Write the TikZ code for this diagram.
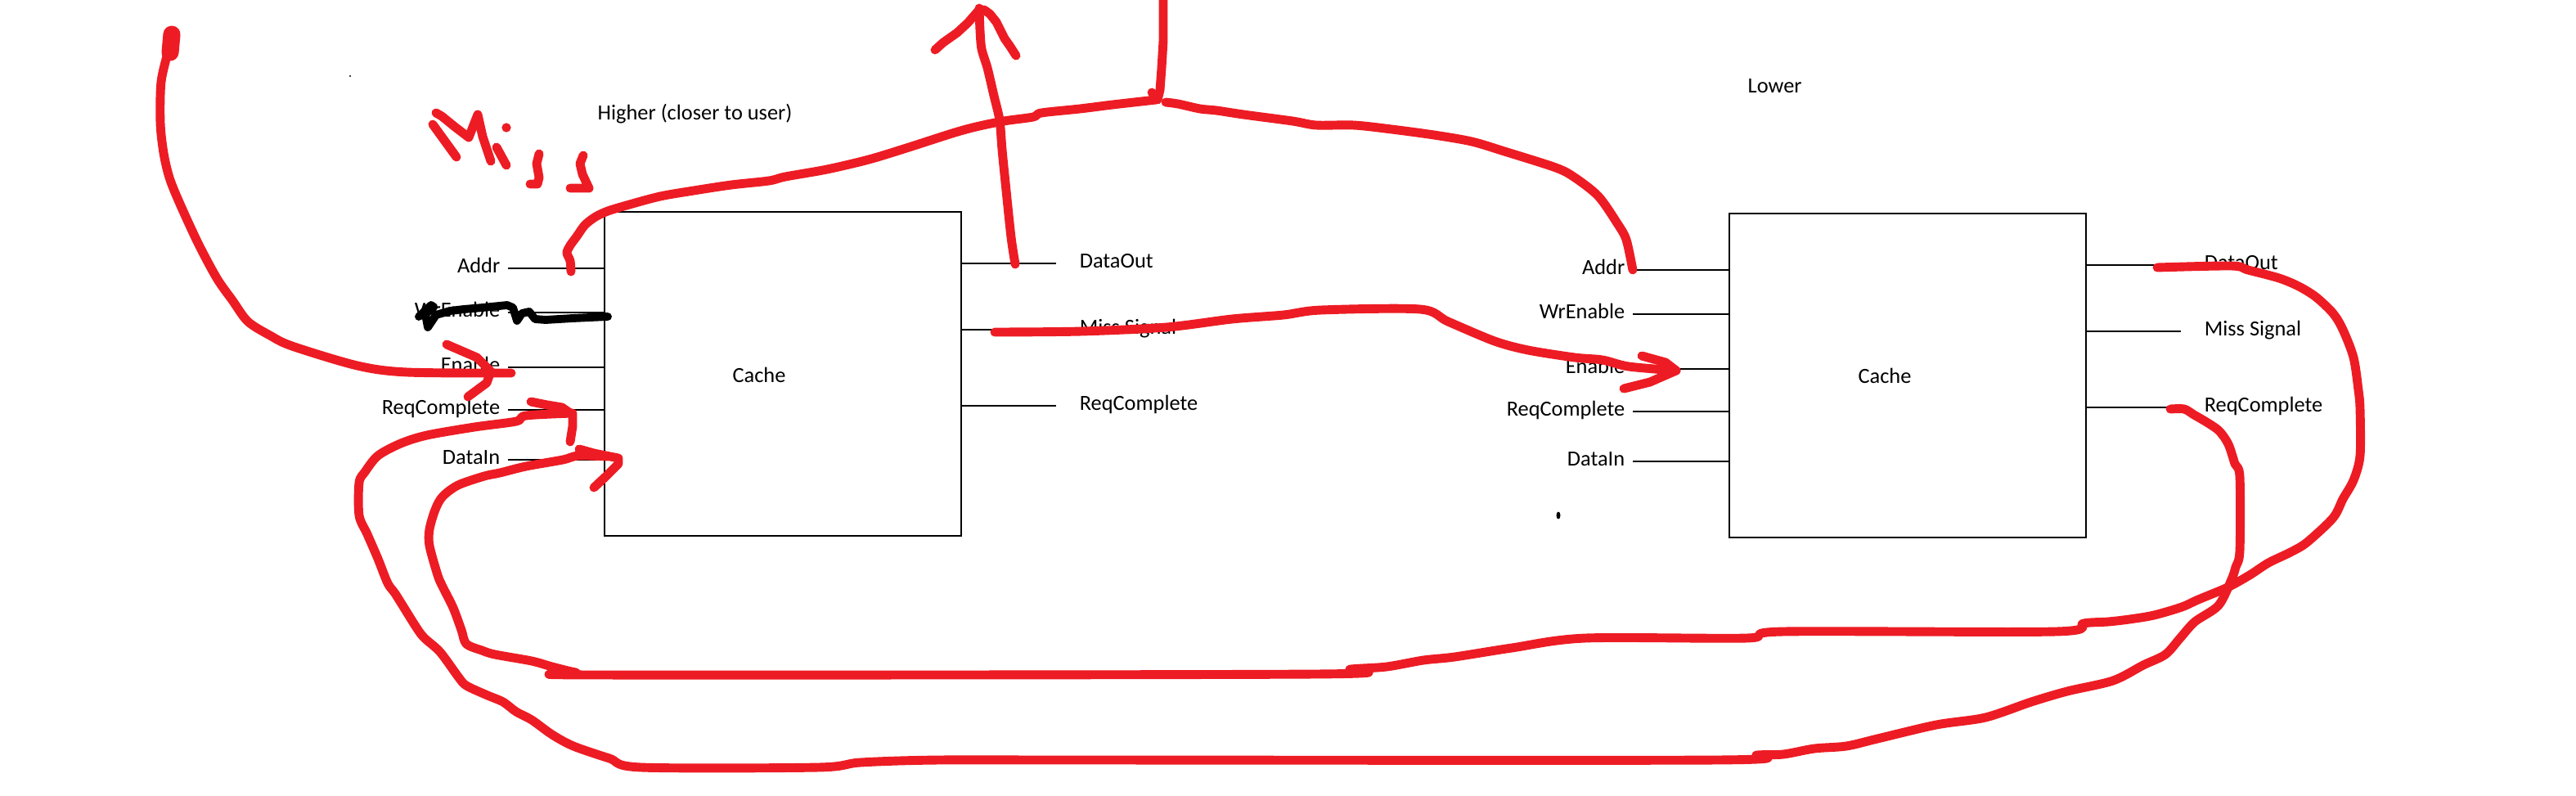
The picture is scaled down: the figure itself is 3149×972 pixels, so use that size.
\documentclass[tikz,border=0pt]{standalone}
\usepackage{fontspec}
\setmainfont{Carlito}
\usetikzlibrary{calc}
\definecolor{paintred}{HTML}{ED1C24}

\begin{document}
\begin{tikzpicture}[x=0.01cm, y=-0.01cm,
    every node/.style={font=\fontsize{7.5pt}{9pt}\selectfont},
    cachebox/.style={draw, line width=0.55pt, minimum width=4.36cm, minimum height=3.96cm, inner sep=0pt},
    portline/.style={line width=0.55pt},
    portlbl/.style={inner sep=0pt},
    redpen/.style={paintred, line width=3.1pt, line cap=round, line join=round},
    blackpen/.style={black, line width=2.8pt, line cap=round, line join=round}]

    \useasboundingbox (0,0) rectangle (3149,972);

    % the two caches
    \node[cachebox] (hi) at (957,457) {};
    \node[cachebox] (lo) at (2332,459) {};
    \node (hi-name) at (928,458) {Cache};
    \node (lo-name) at (2304,459) {Cache};
    \node[portlbl, anchor=base west] (hi-title) at (730,146) {Higher (closer to user)};
    \node[portlbl, anchor=base west] (lo-title) at (2136,113) {Lower};

    \foreach \b in {hi,lo}{
        \foreach \dy/\txt/\n in {70/Addr/addr, 124/WrEnable/wren, 191/Enable/en, 243/ReqComplete/req, 304/DataIn/din}{
            \draw[portline] ($(\b.north west)+(0,\dy)$) -- ++(-117,0) coordinate (\b-\n);
            \node[portlbl, anchor=base east] (\b-\n-lbl) at ($(\b-\n)+(-9,6)$) {\txt};
        }
        \foreach \dy/\txt/\n in {64/DataOut/dout, 145/Miss Signal/miss, 238/ReqComplete/rc}{
            \draw[portline] ($(\b.north east)+(0,\dy)$) -- ++(115,0) coordinate (\b-\n);
            \node[portlbl, anchor=base west] (\b-\n-lbl) at ($(\b-\n)+(28,6)$) {\txt};
        }
    }

    \fill (1905,630) ellipse [x radius=0.025cm, y radius=0.045cm];
    \fill (428,93) circle [radius=0.012cm];

    % WrEnable crossed out
    \draw[blackpen] (512,387) -- (527,373) -- (530,375) -- (520,384) -- (523,400) -- (533,385) -- (550,380) -- (567,378) -- (590,376) -- (620,373) -- (627,376) -- (632,392) -- (638,383) -- (647,381) -- (654,390) -- (667,391) -- (700,389) -- (743,387);

    % scribbled notes
    \coordinate (req-in) at (209,38);
    \coordinate (hi-addr-tap) at (698,332);
    \coordinate (hi-dout-tap) at (1241,323);
    \coordinate (hi-miss-tap) at (1216,406);
    \coordinate (lo-dout-tap) at (2637,327);
    \coordinate (lo-rc-tap) at (2653,500);

    \draw[redpen, line width=6pt] (210,42) -- (208,64);
    \draw[redpen] plot[smooth] coordinates {(req-in) (206,60) (197,100) (196,150) (200,187) (207,217) (219,247) (242,297) (265,340) (284,367) (303,393) (330,410) (357,423) (437,447) (498,455) (625,456)};
    \draw[redpen] (546,421) -- (583,437) -- (600,454) -- (595,468) -- (572,485);

    \draw[redpen] (529,152) -- (558,192);
    \draw[redpen] (533,138) -- (540,142) -- (556,155) -- (573,168) -- (584,140) -- (590,167) -- (600,197);
    \draw[redpen] (607,180) -- (619,202);
    \fill[paintred] (619,156) circle [radius=1.6pt];
    \draw[redpen] (659,188) -- (656,200) -- (659,217) -- (657,225) -- (648,225);
    \draw[redpen] (713,190) -- (709,200) -- (712,213) -- (720,230) -- (697,230);

    \draw[redpen] plot[smooth] coordinates {(hi-addr-tap) (697,319) (693,309) (697,300) (705,289) (715,275) (728,265) (743,258) (766,251) (807,240) (848,233) (894,226) (940,221) (960,216) (1011,207) (1062,195) (1108,181) (1164,163) (1193,155) (1227,148) (1263,143) (1273,138) (1320,133) (1360,128) (1413,122)};
    \draw[redpen] plot[smooth] coordinates {(1425,125) (1440,127) (1467,133) (1487,135) (1520,140) (1580,148) (1609,153) (1655,153) (1701,158) (1753,165) (1799,173) (1839,185) (1902,205) (1925,217) (1954,240) (1977,273) (1988,293) (lo-addr)};
    \draw[redpen] (1422,-10) -- (1422,50) -- (1420,83) -- (1418,110) -- (1415,122);
    \draw[redpen] (1408,113) -- (1415,121);

    \draw[redpen] plot[smooth] coordinates {(hi-dout-tap) (1236,290) (1230,233) (1225,183) (1222,147) (1215,117) (1207,83) (1200,60) (1198,37) (1197,10)};
    \draw[redpen] (1143,61) -- (1153,52) -- (1170,40) -- (1183,28) -- (1197,12) -- (1203,12) -- (1210,17) -- (1218,27) -- (1228,47) -- (1235,57) -- (1242,68);

    \draw[redpen] plot[smooth] coordinates {(hi-miss-tap) (1322,405) (1426,400) (1506,390) (1569,385) (1615,379) (1736,378) (1770,393) (1827,417) (1868,428) (1925,437) (1959,440) (1991,448) (2049,453)};
    \draw[redpen] (2007,435) -- (2036,443) -- (2049,453) -- (2017,467) -- (1985,475);

    \draw[redpen] plot[smooth] coordinates {(lo-rc-tap) (2670,500) (2682,507) (2699,517) (2713,527) (2724,543) (2732,567) (2738,583) (2738,673) (2733,693) (2728,708) (2712,740) (2683,760) (2665,780) (2647,800) (2620,813) (2583,832) (2527,845) (2483,858) (2427,877) (2367,886) (2295,903) (2257,912) (2218,915) (2180,922) (2148,923) (2097,929) (1332,929) (1147,929) (1052,932) (1000,938) (784,938) (745,927) (701,912) (675,898) (650,880) (631,870) (615,858) (596,850) (570,838) (560,827) (538,797) (519,780) (509,767) (484,727) (474,713) (462,683) (449,653) (439,630) (439,590) (446,577) (462,557) (490,542) (522,532) (580,522) (631,515) (643,508) (700,505)};
    \draw[redpen] (649,491) -- (669,495) -- (687,498) -- (700,507) -- (700,521) -- (697,540);

    \draw[redpen] plot[smooth] coordinates {(lo-dout-tap) (2728,325) (2748,330) (2786,340) (2810,350) (2831,363) (2852,383) (2864,403) (2877,437) (2883,477) (2885,500) (2885,557) (2877,587) (2864,610) (2852,633) (2820,663) (2800,675) (2773,688) (2750,703) (2723,718) (2687,733) (2667,742) (2633,752) (2603,757) (2577,760) (2547,762) (2513,772) (2180,772) (2135,780) (1938,780) (1848,792) (1778,803) (1740,807) (1695,815) (1651,818) (1606,824) (733,825) (704,822) (675,815) (650,808) (605,800) (589,795) (570,787) (564,770) (554,743) (541,717) (535,703) (525,667) (525,647) (532,623) (541,607) (560,593) (592,582) (611,578) (643,570) (688,562) (707,557) (743,558)};
    \draw[redpen] (708,549) -- (726,554) -- (746,558) -- (756,560) -- (756,567) -- (741,582) -- (726,596);

\end{tikzpicture}
\end{document}
